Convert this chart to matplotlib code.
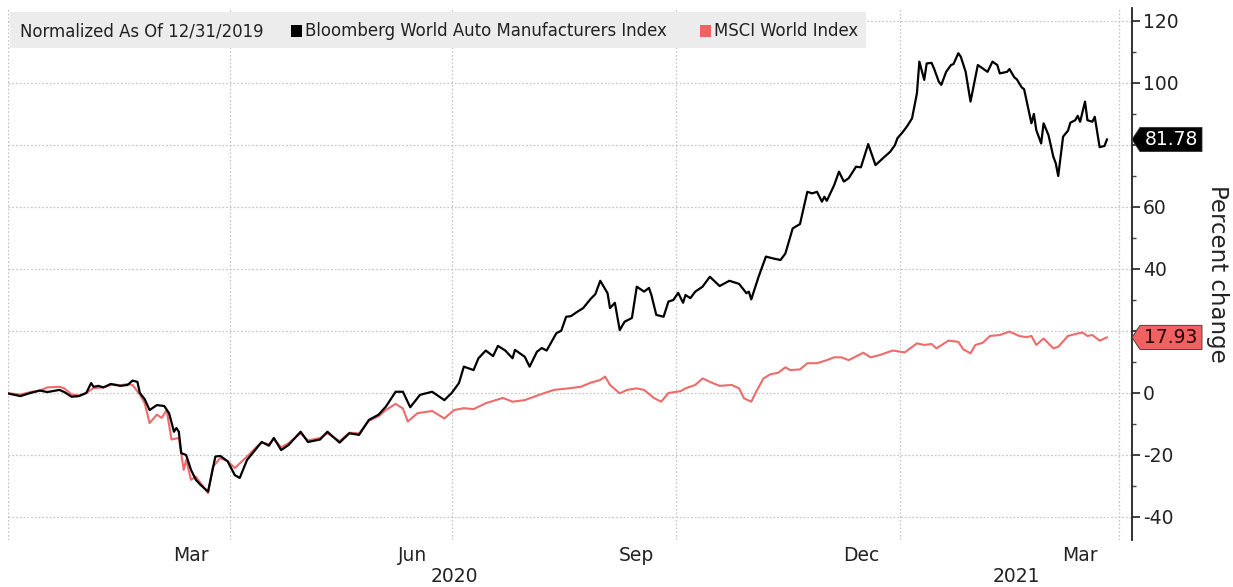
import matplotlib
matplotlib.use("Agg")
import matplotlib.pyplot as plt
import matplotlib.dates as mdates
from matplotlib.patches import Polygon, Rectangle
import pandas as pd
import numpy as np

# Bloomberg World Auto Manufacturers Index, % change since 12/31/2019
auto_dates = [
    "2019-12-31", "2020-01-06", "2020-01-10", "2020-01-14", "2020-01-17", "2020-01-22",
    "2020-01-24", "2020-01-27", "2020-01-30", "2020-02-02", "2020-02-04", "2020-02-05",
    "2020-02-07", "2020-02-09", "2020-02-12", "2020-02-16", "2020-02-19", "2020-02-21",
    "2020-02-23", "2020-02-24", "2020-02-26", "2020-02-28", "2020-03-02", "2020-03-05",
    "2020-03-07", "2020-03-09", "2020-03-10", "2020-03-11", "2020-03-12", "2020-03-14",
    "2020-03-16", "2020-03-18", "2020-03-20", "2020-03-23", "2020-03-26", "2020-03-28",
    "2020-03-31", "2020-04-03", "2020-04-05", "2020-04-08", "2020-04-12", "2020-04-14",
    "2020-04-17", "2020-04-19", "2020-04-22", "2020-04-25", "2020-04-30", "2020-05-03",
    "2020-05-08", "2020-05-11", "2020-05-16", "2020-05-20", "2020-05-24", "2020-05-28",
    "2020-06-01", "2020-06-04", "2020-06-08", "2020-06-11", "2020-06-14", "2020-06-18",
    "2020-06-23", "2020-06-28", "2020-07-01", "2020-07-04", "2020-07-06", "2020-07-10",
    "2020-07-12", "2020-07-15", "2020-07-18", "2020-07-20", "2020-07-23", "2020-07-26",
    "2020-07-27", "2020-07-31", "2020-08-02", "2020-08-05", "2020-08-07", "2020-08-09",
    "2020-08-13", "2020-08-15", "2020-08-17", "2020-08-19", "2020-08-21", "2020-08-24",
    "2020-08-27", "2020-08-29", "2020-08-31", "2020-09-03", "2020-09-04", "2020-09-06",
    "2020-09-08", "2020-09-10", "2020-09-13", "2020-09-15", "2020-09-18", "2020-09-20",
    "2020-09-21", "2020-09-23", "2020-09-26", "2020-09-28", "2020-09-30", "2020-10-02",
    "2020-10-04", "2020-10-05", "2020-10-07", "2020-10-09", "2020-10-12", "2020-10-15",
    "2020-10-19", "2020-10-23", "2020-10-27", "2020-10-30", "2020-10-31", "2020-11-01",
    "2020-11-04", "2020-11-07", "2020-11-10", "2020-11-13", "2020-11-15", "2020-11-18",
    "2020-11-21", "2020-11-24", "2020-11-26", "2020-11-28", "2020-11-30", "2020-12-01",
    "2020-12-02", "2020-12-05", "2020-12-07", "2020-12-09", "2020-12-11", "2020-12-14",
    "2020-12-16", "2020-12-19", "2020-12-22", "2020-12-25", "2020-12-28", "2020-12-30",
    "2020-12-31", "2021-01-02", "2021-01-04", "2021-01-06", "2021-01-08", "2021-01-09",
    "2021-01-11", "2021-01-12", "2021-01-14", "2021-01-15", "2021-01-17", "2021-01-18",
    "2021-01-20", "2021-01-22", "2021-01-23", "2021-01-25", "2021-01-26", "2021-01-28",
    "2021-01-30", "2021-02-02", "2021-02-04", "2021-02-06", "2021-02-08", "2021-02-10",
    "2021-02-11", "2021-02-14", "2021-02-15", "2021-02-17", "2021-02-18", "2021-02-20",
    "2021-02-21", "2021-02-23", "2021-02-24", "2021-02-25", "2021-02-26", "2021-02-28",
    "2021-03-01", "2021-03-03", "2021-03-05", "2021-03-06", "2021-03-07", "2021-03-09",
    "2021-03-11", "2021-03-12", "2021-03-14", "2021-03-15", "2021-03-16", "2021-03-18",
    "2021-03-19", "2021-03-21", "2021-03-22", "2021-03-24", "2021-03-26", "2021-03-27",
]
auto_vals = [
    0.0, -1.0, 0.0, 0.8, 0.3, 1.0,
    0.3, -1.2, -1.0, 0.0, 3.2, 2.0,
    2.3, 1.8, 2.9, 2.3, 2.6, 4.0,
    3.6, 0.0, -2.0, -5.5, -3.9, -4.2,
    -6.5, -12.5, -11.3, -12.5, -19.4, -20.0,
    -24.8, -28.0, -29.7, -31.8, -20.5, -20.3,
    -22.0, -26.5, -27.4, -21.6, -17.7, -15.8,
    -17.0, -14.5, -18.4, -16.8, -12.5, -15.8,
    -15.0, -12.5, -16.0, -13.0, -13.5, -8.7,
    -7.0, -4.4, 0.4, 0.4, -4.6, -0.6,
    0.4, -2.3, 0.0, 3.2, 8.5, 7.4,
    11.2, 13.7, 11.9, 15.2, 13.7, 11.2,
    13.9, 11.7, 8.5, 13.3, 14.5, 13.7,
    19.3, 20.1, 24.6, 24.8, 25.9, 27.4,
    30.3, 31.9, 36.2, 32.2, 27.4, 29.1,
    20.3, 23.0, 24.2, 34.3, 32.7, 33.9,
    31.6, 25.2, 24.6, 29.5, 30.0, 32.3,
    29.1, 31.6, 30.6, 32.7, 34.3, 37.5,
    34.5, 36.2, 35.2, 32.2, 32.7, 30.2,
    37.5, 44.0, 43.4, 42.9, 45.0, 53.1,
    54.5, 64.9, 64.4, 64.9, 61.7, 63.3,
    62.0, 67.0, 71.4, 68.2, 69.3, 73.0,
    72.8, 80.3, 73.5, 75.7, 77.8, 80.0,
    82.2, 84.0, 86.1, 88.6, 96.7, 106.9,
    101.0, 106.3, 106.5, 104.7, 100.4, 99.4,
    103.6, 105.8, 106.1, 109.6, 108.5, 103.6,
    94.0, 105.8, 104.7, 103.6, 106.9, 105.8,
    103.1, 103.6, 104.5, 101.8, 101.2, 98.6,
    98.0, 90.7, 87.0, 90.0, 84.8, 80.5,
    87.0, 83.2, 76.2, 74.1, 70.0, 82.7,
    84.6, 87.2, 88.0, 89.4, 87.5, 94.0,
    88.0, 87.5, 89.1, 79.3, 79.7, 81.78,
]

# MSCI World Index, % change since 12/31/2019
msci_dates = [
    "2019-12-31", "2020-01-06", "2020-01-10", "2020-01-14", "2020-01-17", "2020-01-22",
    "2020-01-24", "2020-01-27", "2020-01-30", "2020-02-02", "2020-02-05", "2020-02-09",
    "2020-02-13", "2020-02-16", "2020-02-19", "2020-02-21", "2020-02-24", "2020-02-26",
    "2020-02-28", "2020-03-02", "2020-03-04", "2020-03-06", "2020-03-08", "2020-03-11",
    "2020-03-13", "2020-03-14", "2020-03-16", "2020-03-18", "2020-03-23", "2020-03-25",
    "2020-03-28", "2020-03-31", "2020-04-03", "2020-04-08", "2020-04-12", "2020-04-14",
    "2020-04-17", "2020-04-19", "2020-04-22", "2020-04-25", "2020-04-30", "2020-05-03",
    "2020-05-08", "2020-05-11", "2020-05-16", "2020-05-20", "2020-05-24", "2020-05-28",
    "2020-06-01", "2020-06-04", "2020-06-08", "2020-06-11", "2020-06-13", "2020-06-17",
    "2020-06-23", "2020-06-28", "2020-07-02", "2020-07-06", "2020-07-10", "2020-07-15",
    "2020-07-22", "2020-07-26", "2020-07-31", "2020-08-07", "2020-08-12", "2020-08-18",
    "2020-08-23", "2020-08-27", "2020-08-31", "2020-09-02", "2020-09-04", "2020-09-08",
    "2020-09-11", "2020-09-15", "2020-09-18", "2020-09-22", "2020-09-25", "2020-09-28",
    "2020-10-03", "2020-10-05", "2020-10-09", "2020-10-12", "2020-10-15", "2020-10-19",
    "2020-10-24", "2020-10-27", "2020-10-29", "2020-11-01", "2020-11-03", "2020-11-06",
    "2020-11-09", "2020-11-12", "2020-11-15", "2020-11-17", "2020-11-21", "2020-11-24",
    "2020-11-28", "2020-12-02", "2020-12-05", "2020-12-08", "2020-12-11", "2020-12-17",
    "2020-12-20", "2020-12-24", "2020-12-29", "2021-01-03", "2021-01-08", "2021-01-11",
    "2021-01-14", "2021-01-16", "2021-01-21", "2021-01-25", "2021-01-27", "2021-01-30",
    "2021-02-01", "2021-02-04", "2021-02-07", "2021-02-11", "2021-02-15", "2021-02-19",
    "2021-02-22", "2021-02-24", "2021-02-26", "2021-03-01", "2021-03-05", "2021-03-07",
    "2021-03-11", "2021-03-15", "2021-03-17", "2021-03-19", "2021-03-21", "2021-03-24",
    "2021-03-27",
]
msci_vals = [
    0.0, -0.5, 0.3, 0.8, 1.8, 2.0,
    1.5, -0.5, -0.8, 0.0, 1.6, 1.8,
    2.8, 2.5, 2.9, 2.6, -0.5, -3.3,
    -9.7, -7.0, -8.0, -5.5, -15.0, -14.5,
    -24.8, -21.6, -28.0, -27.0, -32.3, -23.8,
    -21.0, -22.0, -24.2, -20.5, -17.3, -16.0,
    -16.5, -14.8, -17.5, -16.2, -13.0, -15.3,
    -14.5, -13.0, -15.5, -12.8, -13.0, -9.0,
    -7.5, -5.5, -3.5, -5.0, -9.2, -6.5,
    -5.8, -8.2, -5.5, -4.9, -5.2, -3.3,
    -1.6, -2.8, -2.3, -0.3, 1.0, 1.5,
    2.0, 3.3, 4.2, 5.3, 2.6, -0.1,
    1.0, 1.5, 1.0, -1.6, -2.8, 0.0,
    0.6, 1.5, 2.6, 4.7, 3.6, 2.3,
    2.6, 1.5, -1.7, -2.8, 0.4, 4.7,
    6.1, 6.5, 8.3, 7.4, 7.6, 9.6,
    9.6, 10.6, 11.5, 11.5, 10.6, 13.0,
    11.5, 12.3, 13.7, 13.1, 16.0, 15.5,
    15.8, 14.4, 16.9, 16.5, 14.1, 12.8,
    15.5, 16.2, 18.4, 18.7, 19.8, 18.4,
    18.0, 18.4, 15.5, 17.6, 14.4, 14.9,
    18.4, 19.2, 19.5, 18.4, 18.7, 16.9,
    17.93,
]

yticks = [-40, -20, 0, 20, 40, 60, 80, 100, 120]
month_labels = ["Mar", "Jun", "Sep", "Dec", "Mar"]
month_label_dates = ["2020-03-16", "2020-06-15", "2020-09-15", "2020-12-16", "2021-03-16"]
quarter_lines = ["2020-01-01", "2020-04-01", "2020-07-01", "2020-10-01", "2021-01-01", "2021-04-01"]
years = ["2020", "2021"]

auto_color = "#000000"
msci_color = "#ee6b6b"

W, H = 1233, 587
fig = plt.figure(figsize=(W / 100, H / 100), dpi=100)
plt.rcParams["font.family"] = "DejaVu Sans"

# axes box in pixels (from the reference)
ax_l, ax_r, ax_t, ax_b = 8, 1132, 8, 540
ax = fig.add_axes([ax_l / W, (H - ax_b) / H, (ax_r - ax_l) / W, (ax_b - ax_t) / H])

ad = pd.to_datetime(auto_dates)
md = pd.to_datetime(msci_dates)
ax.plot(md, msci_vals, color=msci_color, lw=1.5, solid_joinstyle="round", zorder=3)
ax.plot(ad, auto_vals, color=auto_color, lw=1.6, solid_joinstyle="round", zorder=4)

# x scale: 2.436 px per day, Jan 1 2020 at x = 8.3 px
x0 = mdates.date2num(pd.Timestamp("2020-01-01"))
ppd = 2.436
ax.set_xlim(x0 + (ax_l - 8.3) / ppd, x0 + (ax_r - 8.3) / ppd)
# y scale: 0 at 393 px, 3.1 px per unit
ax.set_ylim((393 - ax_b) / 3.1, (393 - ax_t) / 3.1)

for s in ["left", "top", "bottom"]:
    ax.spines[s].set_visible(False)
ax.spines["right"].set_color("#222222")
ax.spines["right"].set_linewidth(1.3)

# tick labels that sit under the last-value tags are hidden (as in the reference)
hidden = {round(auto_vals[-1] / 20) * 20, round(msci_vals[-1] / 20) * 20}
ax.yaxis.tick_right()
ax.set_yticks(yticks)
ax.set_yticklabels(["" if v in hidden else str(v) for v in yticks])
ax.set_yticks(np.arange(-40, 121, 10), minor=True)
ax.tick_params(axis="y", which="major", length=6, width=1.2, colors="#222222",
               labelsize=13.5, pad=2, labelcolor="#222222")
ax.tick_params(axis="y", which="minor", length=3, width=1.0, colors="#444444")
ax.grid(axis="y", which="major", color="#c8c8c8", lw=0.9, ls=(0, (1.5, 1.5)))

ax.set_xticks(mdates.date2num(pd.to_datetime(month_label_dates)))
ax.set_xticklabels(month_labels)
ax.tick_params(axis="x", length=0, labelsize=13.5, pad=4, labelcolor="#222222")
for d in quarter_lines:
    ax.axvline(pd.Timestamp(d), color="#c8c8c8", lw=0.9, ls=(0, (1.5, 1.5)), zorder=1)

# year labels centred on each year's visible span
xl = ax.get_xlim()
jan21 = mdates.date2num(pd.Timestamp("2021-01-01"))
spans = [(xl[0], jan21), (jan21, xl[1])]
for yr, (a, b) in zip(years, spans):
    ax.text((a + b) / 2, -0.068, yr, transform=ax.get_xaxis_transform(),
            ha="center", va="center", fontsize=13.5, color="#222222")

ax.set_ylabel("Percent change", rotation=270, fontsize=16.5, color="#222222", labelpad=36)
ax.yaxis.set_label_position("right")

# last-value tags
trans = ax.get_yaxis_transform()
axw = ax_r - ax_l
def tag(v, text, fc, tc):
    h = 3.9
    tip = 8 / axw
    end = 70 / axw
    poly = Polygon([(1.0, v), (1 + tip, v + h), (1 + end, v + h), (1 + end, v - h), (1 + tip, v - h)],
                   closed=True, transform=trans, facecolor=fc, edgecolor="#333333",
                   lw=0.6, clip_on=False, zorder=6)
    ax.add_patch(poly)
    ax.text(1 + (tip + end) / 2, v, text, transform=trans, ha="center", va="center",
            fontsize=13.5, color=tc, zorder=7, clip_on=False)

tag(auto_vals[-1], f"{auto_vals[-1]:.2f}", "#000000", "white")
tag(msci_vals[-1], f"{msci_vals[-1]:.2f}", "#f06262", "#2a0000")

# legend strip
fig.patches.append(Rectangle((10 / W, (H - 48) / H), 856 / W, 36 / H, transform=fig.transFigure,
                             facecolor="#ececec", edgecolor="none", zorder=10))
ty = (H - 31) / H
fkw = dict(fontsize=13.2, color="#222222", va="center", ha="left", fontstretch="condensed", zorder=11)
fig.text(20 / W, ty, "Normalized As Of 12/31/2019", **fkw)
fig.patches.append(Rectangle((291 / W, (H - 37) / H), 11 / W, 12 / H, transform=fig.transFigure,
                             facecolor=auto_color, edgecolor="none", zorder=11))
fig.text(305 / W, ty, "Bloomberg World Auto Manufacturers Index", **fkw)
fig.patches.append(Rectangle((700 / W, (H - 37) / H), 11 / W, 12 / H, transform=fig.transFigure,
                             facecolor="#f06262", edgecolor="none", zorder=11))
fig.text(714 / W, ty, "MSCI World Index", **fkw)

fig.savefig("out.png", dpi=100, facecolor="white")
